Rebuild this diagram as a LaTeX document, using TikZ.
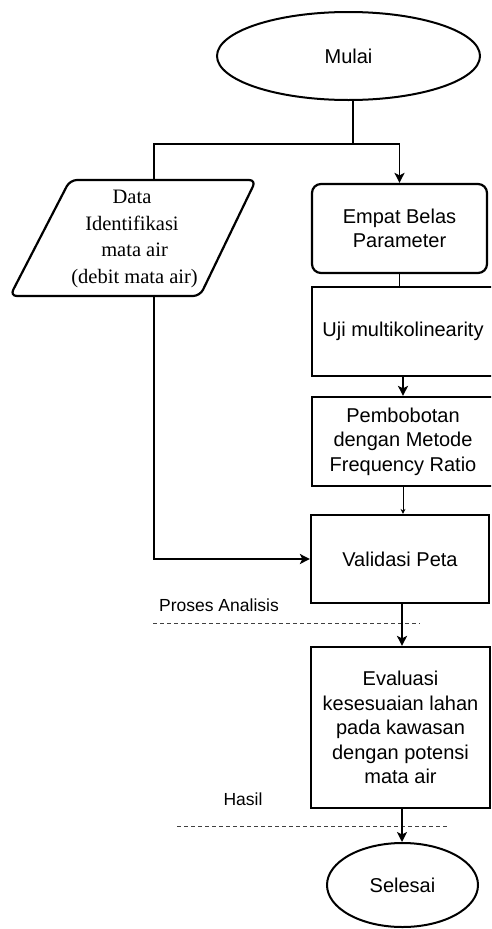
\documentclass[tikz,border=0pt]{standalone}
\usepackage{fontspec}
\setmainfont{Liberation Sans}
\newfontfamily\serifdata{Liberation Serif}
\usetikzlibrary{shapes.geometric,arrows.meta}
\begin{document}
\begin{tikzpicture}[x=1pt,y=-1pt,
  box/.style={draw,line width=2.2pt,align=center,inner sep=2pt,
    font=\fontsize{20}{24.5}\selectfont},
  oval/.style={draw,ellipse,line width=2pt,align=center,inner sep=0pt,
    font=\fontsize{20}{24.5}\selectfont},
  conn/.style={line width=1.9pt},
  arr/.style={line width=1.9pt,-{Stealth[length=10pt,width=10pt,inset=2.5pt]}},
  sep/.style={line width=1pt,dash pattern=on 4pt off 3pt,black!75},
  lbl/.style={font=\fontsize{17.5}{20}\selectfont,inner sep=0pt}]
\useasboundingbox (0,0) rectangle (491,929);
\clip (0,0) rectangle (491,929);
% nodes
\node[oval,minimum width=263pt,minimum height=88pt] (mulai) at (348.5,56) {Mulai};
\node[box,rounded corners=9pt,minimum width=175pt,minimum height=89pt] (empat) at (399.5,228.5) {Empat Belas\\Parameter};
\node[box,minimum width=182pt,minimum height=89pt] (uji) at (403,331.5) {Uji multikolinearity};
\node[box,minimum width=182pt,minimum height=89pt] (bobot) at (403,441.5) {Pembobotan\\dengan Metode\\Frequency Ratio};
\node[box,minimum width=178pt,minimum height=88pt] (valid) at (400,559) {Validasi Peta};
\node[box,minimum width=179pt,minimum height=161pt] (eval) at (400.5,727.5) {Evaluasi\\kesesuaian lahan\\pada kawasan\\dengan potensi\\mata air};
\node[oval,minimum width=151pt,minimum height=84pt] (selesai) at (402.5,885) {Selesai};
% data parallelogram
\draw[line width=2.2pt,rounded corners=7pt] (70,180) -- (256,180) -- (200,296) -- (10,296) -- cycle;
\node[align=center,inner sep=0pt,font=\serifdata\fontsize{20.5}{26.5}\selectfont] (data) at (132,239) {Data\\Identifikasi\\\ mata air\\\ (debit mata air)};
\coordinate (datatop) at (154,180);
\coordinate (databot) at (154,296);
% labels
\node[lbl] (proses) at (219,605) {Proses Analisis};
\node[lbl] (hasil) at (243,799) {Hasil};
\coordinate (s1a) at (153,623);
\coordinate (s1b) at (420,623);
\coordinate (s2a) at (177,826);
\coordinate (s2b) at (447,826);
\draw[sep] (s1a) -- (s1b);
\draw[sep] (s2a) -- (s2b);
% connectors
\coordinate (fork) at (353,144);
\draw[conn] (mulai.south -| fork) -- (fork);
\draw[conn] (fork) -- (datatop |- fork) -- (datatop);
\draw[arr] (fork) -- (empat.north |- fork) -- (empat.north);
\draw[conn] (empat.south) -- (empat.south |- uji.north);
\draw[arr] (uji.south) -- (bobot.north);
\draw[line width=1pt,-{Stealth[length=5pt,width=5pt]}] (bobot.south) -- (bobot.south |- valid.north);
\draw[arr] (databot) -- (databot |- valid.west) -- (valid.west);
\draw[arr] (valid.south -| 402,0) -- (eval.north -| 402,0);
\draw[arr] (eval.south -| 402,0) -- (selesai.north -| 402,0);
\end{tikzpicture}
\end{document}
